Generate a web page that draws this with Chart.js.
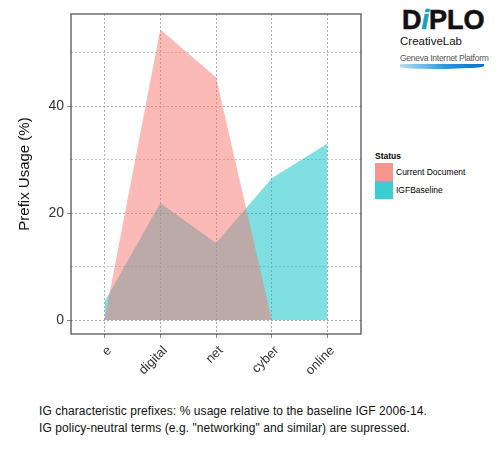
<!DOCTYPE html>
<html>
<head>
<meta charset="utf-8">
<script src="https://cdn.jsdelivr.net/npm/chart.js@4"></script>
<style>
  body { margin: 0; background: #fff; font-family: "Liberation Sans", Arial, sans-serif; }
  #wrap { position: relative; width: 500px; height: 450px; overflow: hidden; }
  #chartBox { position: absolute; left: 0; top: 0; width: 370px; height: 400px; }
  #legend { position: absolute; left: 375px; top: 151px; font-size: 8.5px; color: #000; }
  #legend .ttl { font-weight: bold; margin-bottom: 2px; }
  #legend .row { display: flex; align-items: center; height: 18px; }
  #legend .key { width: 18px; height: 18px; margin-right: 3px; }
  #logo { position: absolute; left: 398px; top: 7px; width: 90px; }
  #logo .diplo { font-weight: 900; font-size: 27px; color: #111; line-height: 27px; padding-left: 4px; -webkit-text-stroke: 0.6px #111; }
  #logo .diplo i { color: #1aa0b8; -webkit-text-stroke: 0.6px #1aa0b8; }
  #logo .cl { font-size: 11.5px; color: #111; margin-top: 1px; padding-left: 2px; }
  #logo .gip { font-size: 9px; color: #555; margin-top: 6px; letter-spacing: -0.3px; padding-left: 2px; transform: scaleX(0.95); transform-origin: left; white-space: nowrap; }
  #logo .sw { width: 84px; height: 5px; margin-top: 1px; margin-left: 2px; border-radius: 0 0 60% 40%; background: linear-gradient(90deg, #b8dcf4, #2b95de 55%, #0b6fc2); }
  #caption { position: absolute; left: 39px; top: 403px; font-size: 12px; line-height: 16.5px; letter-spacing: 0.07px; color: #111; }
</style>
</head>
<body>
<div id="wrap">
  <div id="chartBox"><canvas id="prefixChart"></canvas></div>
  <div id="logo">
    <div class="diplo">D<i>i</i>PLO</div>
    <div class="cl">CreativeLab</div>
    <div class="gip">Geneva Internet Platform</div>
    <div class="sw"></div>
  </div>
  <div id="legend"></div>
  <div id="caption">IG characteristic prefixes: % usage relative to the baseline IGF 2006-14.<br>IG policy-neutral terms (e.g. "networking" and similar) are supressed.</div>
</div>
<script>
const categories = ["e", "digital", "net", "cyber", "online"];
const currentDocument = [0, 54.3, 45.4, 0, 0];
const igfBaseline = [3.4, 21.9, 14.4, 26.5, 33.0];
const yTicks = [0, 10, 20, 30, 40, 50];

const seriesNames = ["Current Document", "IGFBaseline"];
const fillColors = ["rgba(248,118,109,0.5)", "rgba(0,191,196,0.5)"];
const keyColors = ["#F7968F", "#3DCCCF"];

const legendBox = document.getElementById("legend");
let legendHtml = '<div class="ttl">Status</div>';
seriesNames.forEach((name, i) => {
    legendHtml += `<div class="row"><div class="key" style="background:${keyColors[i]}"></div>${name}</div>`;
});
legendBox.innerHTML = legendHtml;

// dark frame round the panel, like ggplot's panel border
const panelBorder = {
    id: "panelBorder",
    afterDraw(chart) {
        const { ctx, chartArea } = chart;
        ctx.save();
        ctx.strokeStyle = "#444";
        ctx.lineWidth = 1.2;
        ctx.strokeRect(chartArea.left, chartArea.top, chartArea.right - chartArea.left, chartArea.bottom - chartArea.top);
        ctx.restore();
    }
};

const toPoints = arr => arr.map((v, i) => ({ x: i, y: v }));

const ctx = document.getElementById("prefixChart").getContext("2d");
const chart = new Chart(ctx, {
    type: "line",
    data: {
        datasets: [
            { label: seriesNames[0], data: toPoints(currentDocument), backgroundColor: fillColors[0], fill: "origin", borderWidth: 0, pointRadius: 0, tension: 0 },
            { label: seriesNames[1], data: toPoints(igfBaseline), backgroundColor: fillColors[1], fill: "origin", borderWidth: 0, pointRadius: 0, tension: 0 },
        ],
    },
    options: {
        responsive: true,
        maintainAspectRatio: false,
        animation: false,
        layout: { padding: { top: 14, right: 9, left: 0, bottom: 0 } },
        plugins: { legend: { display: false }, tooltip: { enabled: false } },
        scales: {
            x: {
                type: "linear",
                min: -0.6,
                max: 4.6,
                afterBuildTicks: s => { s.ticks = categories.map((c, i) => ({ value: i })); },
                afterFit: s => { s.height = 66; },
                ticks: {
                    callback: v => categories[v],
                    minRotation: 45,
                    maxRotation: 45,
                    color: "#333",
                    font: { family: "Liberation Sans", size: 13 },
                    padding: 5,
                    labelOffset: 5,
                },
                grid: { color: "#aaa", tickColor: "#888", tickLength: 4, tickBorderDash: [] },
                border: { display: false, dash: [2, 2] },
            },
            y: {
                min: -2.6,
                max: 57.2,
                afterBuildTicks: s => { s.ticks = yTicks.map(v => ({ value: v })); },
                afterFit: s => { s.width = 71; },
                ticks: {
                    callback: v => (v % 20 === 0 ? v : ""),
                    color: "#333",
                    font: { family: "Liberation Sans", size: 14 },
                    padding: 3,
                },
                grid: {
                    color: c => (c.tick && c.tick.value % 20 === 0 ? "#aaa" : "#c4c4c4"),
                    tickColor: c => (c.tick && c.tick.value % 20 === 0 ? "#888" : "rgba(0,0,0,0)"),
                    tickLength: 4,
                    tickBorderDash: [],
                },
                border: { display: false, dash: [2, 2] },
                title: {
                    display: true,
                    text: "Prefix Usage (%)",
                    color: "#111",
                    font: { family: "Liberation Sans", size: 15 },
                    padding: { top: 16, bottom: 0 },
                },
            },
        },
    },
    plugins: [panelBorder],
});
</script>
</body>
</html>
